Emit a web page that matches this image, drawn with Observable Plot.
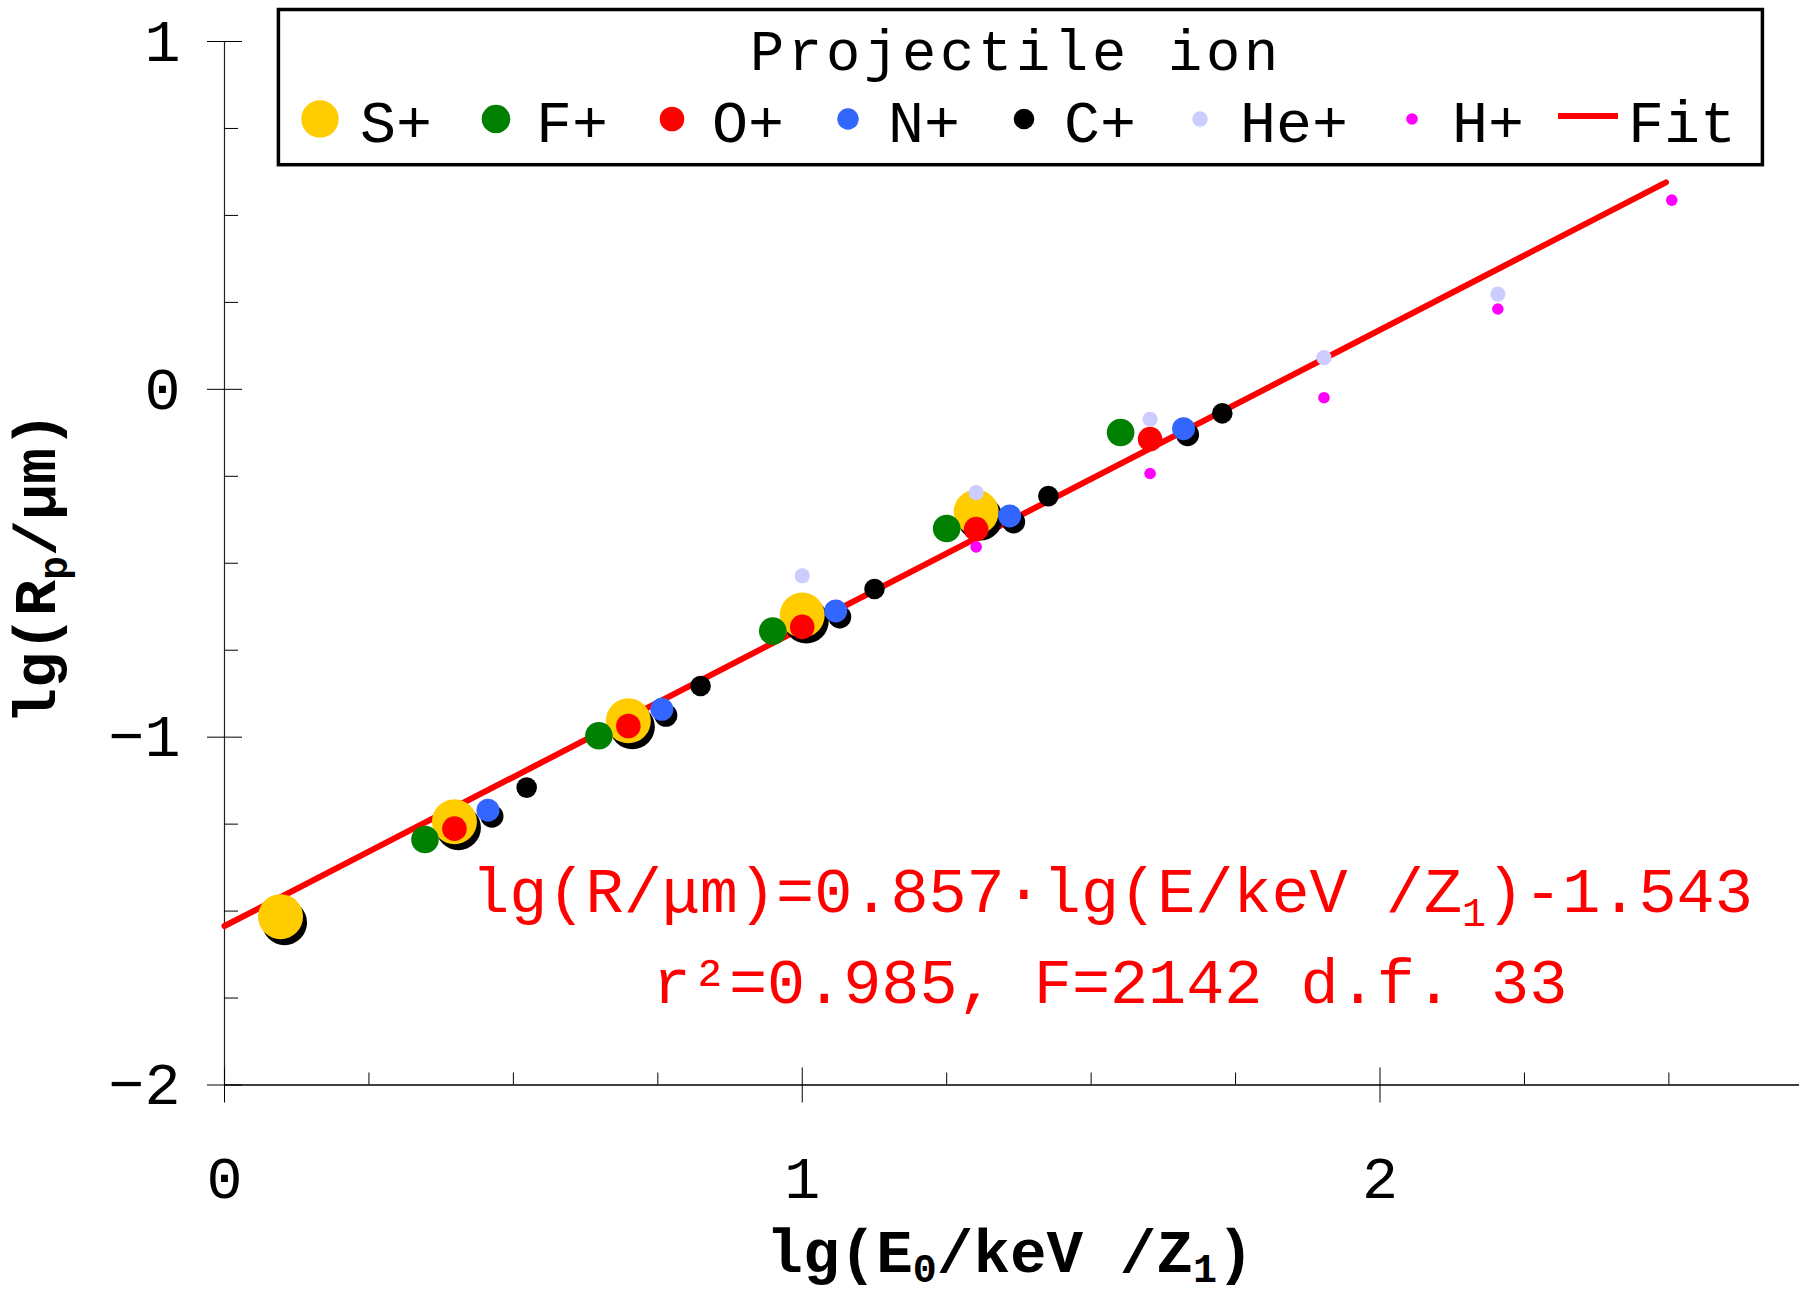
<!DOCTYPE html>
<html><head><meta charset="utf-8">
<script src="https://cdn.jsdelivr.net/npm/d3@7"></script>
<script src="https://cdn.jsdelivr.net/npm/@observablehq/plot@0.6"></script>
<style>
html,body{margin:0;padding:0;background:#fff;}
#chart{position:relative;width:1799px;height:1303px;overflow:hidden;background:#fff;}
</style></head><body><div id="chart"></div>
<script>
// ---- data ----
const ions = ["S+", "F+", "O+", "N+", "C+", "He+", "H+"];
const lgE_S  = [0.097, 0.398, 0.699, 1.000, 1.301];
const lgR_S  = [-1.516, -1.243, -0.953, -0.649, -0.353];
const lgE_F  = [0.347, 0.648, 0.949, 1.250, 1.551];
const lgR_F  = [-1.294, -0.996, -0.695, -0.400, -0.124];
const lgE_O  = [0.398, 0.699, 1.000, 1.301, 1.602];
const lgR_O  = [-1.263, -0.968, -0.683, -0.402, -0.143];
const lgE_N  = [0.456, 0.757, 1.058, 1.359, 1.660];
const lgR_N  = [-1.210, -0.920, -0.637, -0.364, -0.113];
const lgE_C  = [0.523, 0.824, 1.125, 1.426, 1.727];
const lgR_C  = [-1.145, -0.853, -0.574, -0.307, -0.069];
const lgE_He = [1.000, 1.301, 1.602, 1.903, 2.204];
const lgR_He = [-0.536, -0.297, -0.086, 0.091, 0.274];
const lgE_H  = [1.301, 1.602, 1.903, 2.204, 2.505];
const lgR_H  = [-0.453, -0.242, -0.024, 0.231, 0.544];
const fitSlope = 0.857;
const fitIntercept = -1.543;
const fitXRange = [0, 2.495];
const xTicksMajor = [0, 1, 2];
const xTicksMinor = [0.25, 0.5, 0.75, 1.25, 1.5, 1.75, 2.25, 2.5];
const yTicksMajor = [-2, -1, 0, 1];
const yTicksMinor = [-1.75, -1.5, -1.25, -0.75, -0.5, -0.25, 0.25, 0.5, 0.75];
const eqLine1 = ["lg(R/μm)=0.857·lg(E/keV /Z", "1", ")-1.543"];
const eqLine2 = "r²=0.985, F=2142 d.f. 33";
const legendTitle = "Projectile ion";
const fitLabel = "Fit";

// ---- styles ----
const ionColors = ["#FFCC00", "#008000", "#FF0000", "#3366FF", "#000000", "#CCCCFF", "#FF00FF"];
const ionRadius = [22.5, 13.8, 12.3, 11.5, 10.3, 7.6, 5.8];
const legendRadius = [18.7, 14.3, 12.3, 10.7, 10.3, 7.7, 5.8];
const ionShadow = [true, false, false, true, false, false, false];

const xs = [lgE_S, lgE_F, lgE_O, lgE_N, lgE_C, lgE_He, lgE_H];
const ys = [lgR_S, lgR_F, lgR_O, lgR_N, lgR_C, lgR_He, lgR_H];
const series = ions.map((ion, i) => xs[i].map((x, j) => ({ion, x, y: ys[i][j]})));
const fitPts = fitXRange.map(x => ({x, y: fitSlope * x + fitIntercept}));

const W = 1799, H = 1303, mL = 224, mR = 0, mT = 41, mB = 218.5;
const frameW = W - mL - mR, frameH = H - mT - mB;
const FONT = "'Liberation Mono', 'Courier New', monospace";
const fmt = d => d < 0 ? "\u2212" + Math.abs(d) : String(d);

const marks = [
  Plot.ruleX([0], {stroke: "#222", strokeWidth: 1.2}),
  Plot.ruleY([-2], {stroke: "#000", strokeWidth: 1.6}),
  Plot.tickX(xTicksMajor, {x: d => d, insetTop: frameH - 17, insetBottom: -18, stroke: "#000", strokeWidth: 1}),
  Plot.tickX(xTicksMinor, {x: d => d, insetTop: frameH - 12, insetBottom: 0, stroke: "#000", strokeWidth: 1}),
  Plot.tickY(yTicksMajor, {y: d => d, insetLeft: -17, insetRight: frameW - 18, stroke: "#000", strokeWidth: 1}),
  Plot.tickY(yTicksMinor, {y: d => d, insetLeft: 0, insetRight: frameW - 14, stroke: "#000", strokeWidth: 1}),
  Plot.axisX({ticks: xTicksMajor, tickSize: 0, tickPadding: 70, tickFormat: fmt, label: null, fontSize: 60, fontFamily: FONT}),
  Plot.axisY({ticks: yTicksMajor, tickSize: 0, tickPadding: 44, tickFormat: fmt, label: null, fontSize: 60, fontFamily: FONT}),
  Plot.line(fitPts, {x: "x", y: "y", stroke: "#FF0000", strokeWidth: 6})
];
series.forEach((pts, i) => {
  if (ionShadow[i]) marks.push(Plot.dot(pts, {x: "x", y: "y", r: ionRadius[i], fill: "#000", stroke: null, dx: 4, dy: 6}));
});
series.forEach((pts, i) => {
  marks.push(Plot.dot(pts, {x: "x", y: "y", r: ionRadius[i], fill: ionColors[i], stroke: null}));
});

const plot = Plot.plot({
  width: W, height: H,
  marginLeft: mL, marginRight: mR, marginTop: mT, marginBottom: mB,
  x: {domain: [0, frameW / 577.75], axis: null},
  y: {domain: [-2, 1], axis: null},
  style: {fontFamily: FONT, fontSize: "60px", color: "#000", background: "#fff", overflow: "visible"},
  marks
});
document.getElementById("chart").appendChild(plot);

// ---- text annotations, titles, legend ----
const svg = d3.select(plot);

// x-axis title
const xt = svg.append("text").attr("x", 1010).attr("y", 1272).attr("text-anchor", "middle")
  .attr("font-family", FONT).attr("font-weight", "bold").attr("font-size", 61).attr("fill", "#000");
xt.append("tspan").text("lg(E");
xt.append("tspan").attr("font-size", 40).attr("dy", 10).text("0");
xt.append("tspan").attr("dy", -10).text("/keV /Z");
xt.append("tspan").attr("font-size", 40).attr("dy", 10).text("1");
xt.append("tspan").attr("dy", -10).text(")");

// y-axis title
const yt = svg.append("text").attr("transform", "translate(55,568) rotate(-90)").attr("text-anchor", "middle")
  .attr("font-family", FONT).attr("font-weight", "bold").attr("font-size", 60).attr("fill", "#000");
yt.append("tspan").text("lg(R");
yt.append("tspan").attr("font-size", 40).attr("dy", 12).text("p");
yt.append("tspan").attr("dy", -12).text("/μm)");

// fit equation
const e1 = svg.append("text").attr("x", 1112).attr("y", 912).attr("text-anchor", "middle")
  .attr("font-family", FONT).attr("font-size", 63.5).attr("fill", "#FF0000");
e1.append("tspan").text(eqLine1[0]);
e1.append("tspan").attr("font-size", 40).attr("dy", 14).text(eqLine1[1]);
e1.append("tspan").attr("dy", -14).text(eqLine1[2]);
svg.append("text").attr("x", 1110).attr("y", 1003).attr("text-anchor", "middle")
  .attr("font-family", FONT).attr("font-size", 63.5).attr("fill", "#FF0000").text(eqLine2);

// legend
const lg = svg.append("g").attr("text-anchor", "start");
lg.append("rect").attr("x", 278.4).attr("y", 9.5).attr("width", 1484).attr("height", 155.2)
  .attr("fill", "#fff").attr("stroke", "#000").attr("stroke-width", 3.5);
lg.append("text").attr("x", 750).attr("y", 70).attr("text-anchor", "start").attr("font-family", FONT).attr("font-size", 57)
  .attr("letter-spacing", 3.8).attr("fill", "#000").text(legendTitle);
let tx = 360;
const charW = 36, gap = 104, rowY = 119, baseY = 142;
ions.forEach((ion, i) => {
  lg.append("circle").attr("cx", tx - 40).attr("cy", rowY).attr("r", legendRadius[i]).attr("fill", ionColors[i]);
  lg.append("text").attr("x", tx).attr("y", baseY).attr("text-anchor", "start").attr("font-family", FONT).attr("font-size", 60).attr("fill", "#000").text(ion);
  tx += ion.length * charW + gap;
});
lg.append("line").attr("x1", tx - 70).attr("x2", tx - 10).attr("y1", 116).attr("y2", 116)
  .attr("stroke", "#FF0000").attr("stroke-width", 6);
lg.append("text").attr("x", tx).attr("y", baseY).attr("text-anchor", "start").attr("font-family", FONT).attr("font-size", 60).attr("fill", "#000").text(fitLabel);
</script>
</body></html>
